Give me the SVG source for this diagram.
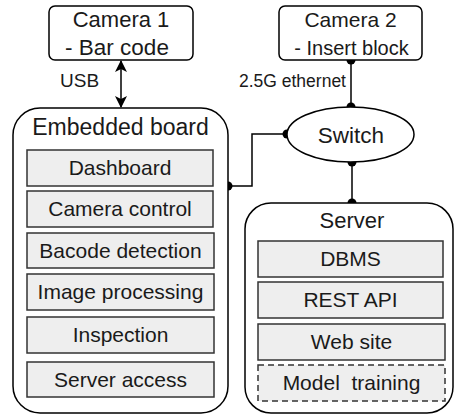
<svg xmlns="http://www.w3.org/2000/svg" width="456" height="416" viewBox="0 0 456 416">
  <style>
    text { font-family: "Liberation Sans", Arial, Helvetica, sans-serif; fill: #1a1a1a; }
    .node { fill: #ffffff; stroke: #000000; stroke-width: 1.5; }
    .item { fill: #eeeeee; stroke: #333333; stroke-width: 1.5; }
    .item-dashed { fill: #eeeeee; stroke: #333333; stroke-width: 1.5; stroke-dasharray: 6 4; }
    .wire { fill: none; stroke: #000000; stroke-width: 1.5; }
    .dot { fill: #000000; }
    .title { font-size: 21.5px; text-anchor: middle; }
    .label { font-size: 21px; text-anchor: middle; }
    .edge-label { font-size: 17.5px; }
  </style>
  <defs>
    <marker id="arrow" viewBox="0 0 12 12" refX="11" refY="6" markerWidth="12" markerHeight="12" markerUnits="userSpaceOnUse" orient="auto-start-reverse">
      <path d="M0,0 L12,6 L0,12 L3,6 z" fill="#000000"/>
    </marker>
  </defs>

  <!-- connectors, drawn below the nodes -->
  <g id="connectors">
    <line class="wire" x1="121" y1="61" x2="121" y2="107" marker-start="url(#arrow)" marker-end="url(#arrow)"/>
    <text class="edge-label" x="60" y="87" style="font-size:19px">USB</text>

    <line class="wire" x1="351" y1="60" x2="351" y2="107"/>
    <circle class="dot" cx="351" cy="60" r="4.5"/>
    <circle class="dot" cx="351" cy="107" r="4.5"/>
    <text class="edge-label" x="346" y="87" text-anchor="end">2.5G ethernet</text>

    <polyline class="wire" points="287,134 252,134 252,186 228,186"/>
    <circle class="dot" cx="287" cy="134" r="4.5"/>
    <circle class="dot" cx="228" cy="186" r="4.5"/>

    <line class="wire" x1="352" y1="162" x2="352" y2="203"/>
    <circle class="dot" cx="352" cy="162" r="4.5"/>
    <circle class="dot" cx="352" cy="203" r="4.5"/>
  </g>

  <g id="camera1">
    <rect class="node" x="49" y="6" width="144" height="54" rx="6"/>
    <text class="title" x="121" y="27" style="font-size:22px">Camera 1</text>
    <text class="title" x="117" y="55" style="font-size:22.5px">- Bar code</text>
  </g>

  <g id="camera2">
    <rect class="node" x="279" y="6" width="143" height="54" rx="6"/>
    <text class="label" x="350.5" y="27">Camera 2</text>
    <text class="label" x="351.5" y="55" style="font-size:20px">- Insert block</text>
  </g>

  <g id="switch">
    <ellipse class="node" cx="350.5" cy="134.5" rx="63.5" ry="27.5"/>
    <text class="title" x="351" y="143" style="font-size:22.5px">Switch</text>
  </g>

  <g id="embedded-board">
    <rect class="node" x="13" y="108" width="215" height="305" rx="27"/>
    <text class="title" x="120.5" y="135" style="font-size:23px">Embedded board</text>
    <rect class="item" x="27" y="150" width="186" height="36"/>
    <text class="label" x="120" y="175">Dashboard</text>
    <rect class="item" x="27" y="191" width="186" height="36"/>
    <text class="label" x="120" y="216">Camera control</text>
    <rect class="item" x="27" y="233" width="187" height="35"/>
    <text class="label" x="120.5" y="258">Bacode detection</text>
    <rect class="item" x="27" y="274" width="187" height="36"/>
    <text class="label" x="120.5" y="299">Image processing</text>
    <rect class="item" x="27" y="317" width="187" height="36"/>
    <text class="label" x="120.5" y="342">Inspection</text>
    <rect class="item" x="27" y="362" width="187" height="35"/>
    <text class="label" x="120.5" y="387">Server access</text>
  </g>

  <g id="server">
    <rect class="node" x="245" y="203" width="208" height="210" rx="26"/>
    <text class="title" x="352" y="228" style="font-size:22px">Server</text>
    <rect class="item" x="258" y="241" width="185" height="36"/>
    <text class="label" x="350.5" y="266">DBMS</text>
    <rect class="item" x="258" y="282" width="185" height="36"/>
    <text class="label" x="350.5" y="307">REST API</text>
    <rect class="item" x="258" y="324" width="187" height="36"/>
    <text class="label" x="351.5" y="349">Web site</text>
    <rect class="item-dashed" x="258" y="365" width="187" height="36"/>
    <text class="label" x="351.5" y="390" xml:space="preserve">Model  training</text>
  </g>
</svg>
